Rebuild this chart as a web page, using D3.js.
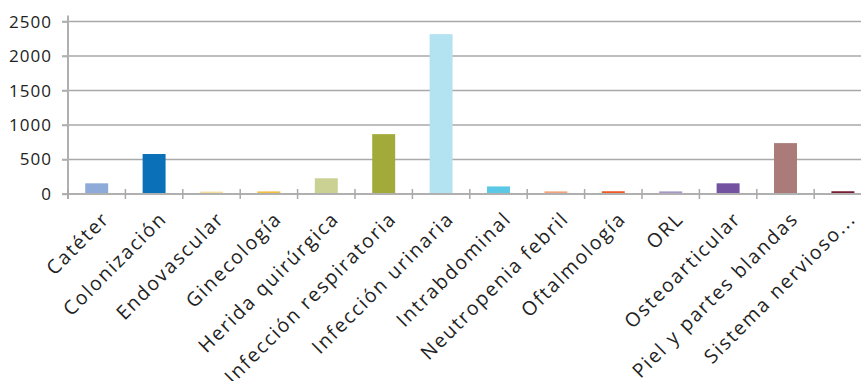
<!DOCTYPE html>
<html>
<head>
<meta charset="utf-8">
<script src="https://cdn.jsdelivr.net/npm/d3@7"></script>
<style>
  html, body { margin: 0; padding: 0; background: #fff; }
  svg { display: block; }
  text { font-family: "Open Sans", sans-serif; fill: #222; }
</style>
</head>
<body>
<svg id="chart" width="861" height="381"></svg>
<script>
// Infection sites and number of cases
const categories = [
  "Catéter", "Colonización", "Endovascular", "Ginecología", "Herida quirúrgica",
  "Infección respiratoria", "Infección urinaria", "Intrabdominal", "Neutropenia febril",
  "Oftalmología", "ORL", "Osteoarticular", "Piel y partes blandas", "Sistema nervioso..."
];
const cases = [155, 580, 35, 38, 228, 868, 2318, 110, 38, 40, 38, 155, 738, 40];
const barColors = [
  "#8eaad9", "#0a70b8", "#f5de9c", "#f0c040", "#cbd193", "#a2aa39", "#b3e2f0",
  "#5bc9e6", "#f4a47c", "#ee5a24", "#a797c8", "#7452a2", "#ab7b79", "#781c33"
];
const yTicks = [0, 500, 1000, 1500, 2000, 2500];

const svg = d3.select("#chart");
const plot = { left: 68, right: 871.6, top: 21.6, bottom: 194 };

const x = d3.scaleBand().domain(categories).range([plot.left, plot.right]).padding(0);
const y = d3.scaleLinear().domain([0, 2500]).range([plot.bottom, plot.top]);

// horizontal gridlines
svg.append("g")
  .selectAll("line")
  .data(yTicks.filter(d => d > 0))
  .join("line")
  .attr("x1", plot.left - 6).attr("x2", 861)
  .attr("y1", d => y(d)).attr("y2", d => y(d))
  .attr("stroke", "#a9a9a9").attr("stroke-width", 1.5);

// bars
const barW = x.bandwidth() * 0.4;
svg.append("g")
  .selectAll("rect")
  .data(categories)
  .join("rect")
  .attr("x", d => x(d) + (x.bandwidth() - barW) / 2)
  .attr("width", barW)
  .attr("y", (d, i) => y(cases[i]))
  .attr("height", (d, i) => y(0) - y(cases[i]))
  .attr("fill", (d, i) => barColors[i]);

// y axis
const yAxis = svg.append("g")
  .attr("transform", `translate(${plot.left},0)`)
  .call(d3.axisLeft(y).tickValues(yTicks).tickFormat(d3.format("d"))
    .tickSize(6).tickPadding(10).tickSizeOuter(0));
yAxis.select(".domain").attr("stroke", "#b0b0b0").attr("stroke-width", 2)
  .attr("d", `M0,${plot.top - 6}V${plot.bottom + 5}`);
yAxis.selectAll(".tick line").attr("stroke", "#b0b0b0").attr("stroke-width", 1.5);
yAxis.selectAll(".tick text")
  .style("font-size", "17px").style("letter-spacing", "1px").attr("fill", "#222");

// x axis baseline and separators between categories
const xg = svg.append("g");
xg.append("line")
  .attr("x1", plot.left - 6).attr("x2", 861)
  .attr("y1", plot.bottom).attr("y2", plot.bottom)
  .attr("stroke", "#b0b0b0").attr("stroke-width", 2);
xg.selectAll("line.sep")
  .data(categories)
  .join("line")
  .attr("class", "sep")
  .attr("x1", d => x(d)).attr("x2", d => x(d))
  .attr("y1", plot.bottom - 5).attr("y2", plot.bottom + 5)
  .attr("stroke", "#a9a9a9").attr("stroke-width", 1.5);

// rotated category labels
xg.selectAll("text")
  .data(categories)
  .join("text")
  .attr("text-anchor", "end")
  .attr("transform", d => `translate(${x(d) + x.bandwidth() / 2 + 14},${plot.bottom + 26}) rotate(-45)`)
  .style("font-size", "19.5px")
  .style("letter-spacing", "1.8px")
  .text(d => d);
</script>
</body>
</html>
